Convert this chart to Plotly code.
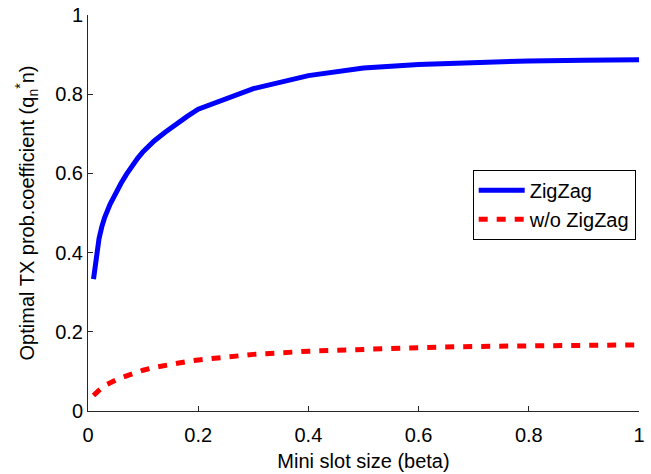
import plotly.graph_objects as go

beta = [0.01, 0.015, 0.02, 0.025, 0.03, 0.04, 0.05, 0.06, 0.07, 0.08, 0.09, 0.10,
        0.12, 0.14, 0.16, 0.18, 0.20, 0.3, 0.4, 0.5, 0.6, 0.7, 0.8, 0.9, 1.0]
zigzag = [0.333, 0.39, 0.435, 0.465, 0.488, 0.522, 0.550, 0.575, 0.598, 0.620, 0.638, 0.655,
          0.682, 0.704, 0.725, 0.744, 0.762, 0.814, 0.847, 0.866, 0.875, 0.881, 0.884, 0.886, 0.887]
wo_zigzag = [0.039, 0.047, 0.054, 0.059, 0.064, 0.072, 0.078, 0.084, 0.089, 0.094, 0.099, 0.103,
             0.110, 0.116, 0.121, 0.125, 0.129, 0.143, 0.151, 0.157, 0.160, 0.163, 0.165, 0.166, 0.167]
tick_vals = [0, 0.2, 0.4, 0.6, 0.8, 1]
tick_text = ["0", "0.2", "0.4", "0.6", "0.8", "1"]

FONT = "Liberation Sans, Arial, Helvetica, sans-serif"
FS = 20

fig = go.Figure()
fig.add_trace(go.Scatter(x=beta, y=zigzag, mode="lines", name="ZigZag",
                         line=dict(color="#0000FF", width=5)))
fig.add_trace(go.Scatter(x=beta, y=wo_zigzag, mode="lines", name="w/o ZigZag",
                         line=dict(color="#FF0000", width=5, dash="9px,9px")))

axis_common = dict(showgrid=False, zeroline=False, showline=True, linecolor="#262626",
                   linewidth=1, ticks="inside", ticklen=5, tickcolor="#262626",
                   tickfont=dict(size=FS, color="black", family=FONT), mirror=False)

fig.update_layout(
    width=651, height=474,
    margin=dict(l=88, r=12, t=15, b=62.5, autoexpand=False),
    paper_bgcolor="white", plot_bgcolor="white",
    font=dict(family=FONT, color="black", size=FS),
    xaxis=dict(range=[0, 1], tickvals=tick_vals, ticktext=tick_text, ticklabelstandoff=6,
               title=dict(text="Mini slot size (beta)", standoff=8,
                          font=dict(size=FS, family=FONT)), automargin=False, **axis_common),
    yaxis=dict(range=[0, 1], tickvals=tick_vals, ticktext=tick_text,
               title=dict(text="Optimal TX prob.coefficient (q<sub>n</sub><sup>*</sup>n)", standoff=15,
                          font=dict(size=FS, family=FONT)), automargin=False, **axis_common),
    legend=dict(x=0.994, y=0.609, xanchor="right", yanchor="top",
                bordercolor="black", borderwidth=1, bgcolor="white",
                font=dict(size=FS, family=FONT), itemwidth=46, tracegroupgap=0),
    showlegend=True,
)

fig.write_html("out.html", config={"displayModeBar": False},
               post_script="document.body.style.margin='0';document.body.style.overflow='hidden';")
